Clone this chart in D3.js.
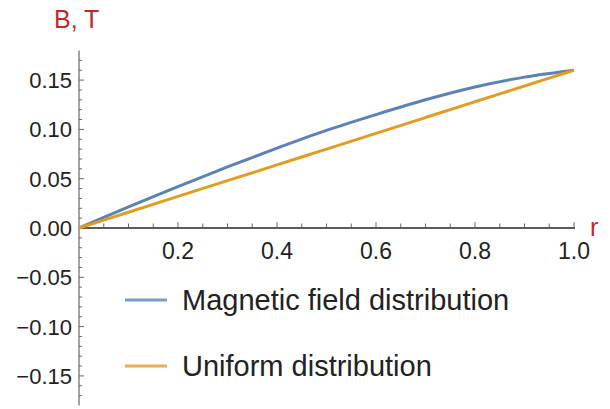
<!DOCTYPE html>
<html>
<head>
<meta charset="utf-8">
<script src="https://cdn.jsdelivr.net/npm/d3@7"></script>
<style>
  html, body { margin: 0; padding: 0; background: #fff; }
  svg { display: block; font-family: "Liberation Sans", Arial, sans-serif; }
</style>
</head>
<body>
<svg id="chart" width="610" height="409"></svg>
<script>
// ---- data ----
const rValues       = [0, 0.1, 0.2, 0.3, 0.4, 0.5, 0.6, 0.7, 0.8, 0.9, 1.0];
const magneticField = [0, 0.0215, 0.042, 0.062, 0.081, 0.099, 0.115, 0.130, 0.143, 0.153, 0.160];
const uniformField  = [0, 0.016, 0.032, 0.048, 0.064, 0.080, 0.096, 0.112, 0.128, 0.144, 0.160];
const xTickValues   = [0.2, 0.4, 0.6, 0.8, 1.0];
const xTickLabels   = ["0.2", "0.4", "0.6", "0.8", "1.0"];
const yTickValues   = [0.15, 0.10, 0.05, 0.00, -0.05, -0.10, -0.15];
const yTickLabels   = ["0.15", "0.10", "0.05", "0.00", "\u22120.05", "\u22120.10", "\u22120.15"];
const seriesNames   = ["Magnetic field distribution", "Uniform distribution"];
const seriesColors  = ["#5e81b5", "#e19c24"];

const svg = d3.select("#chart");
const x = d3.scaleLinear().domain([0, 1]).range([79, 574]);
const y = d3.scaleLinear().domain([-0.18, 0.18]).range([405.5, 50.5]);

const axisColor = "#666";

// y axis line
svg.append("line")
  .attr("x1", x(0)).attr("x2", x(0))
  .attr("y1", y(0.18)).attr("y2", y(-0.18))
  .attr("stroke", axisColor).attr("stroke-width", 1.2);

// y minor ticks (every 0.01)
const yMinor = d3.range(-17, 18).map(i => i / 100);
svg.append("g").selectAll("line").data(yMinor).join("line")
  .attr("x1", x(0)).attr("x2", d => x(0) + (Math.abs(Math.round(d * 100)) % 5 === 0 ? 5 : 3))
  .attr("y1", d => y(d)).attr("y2", d => y(d))
  .attr("stroke", axisColor).attr("stroke-width", 1);

// y labels
svg.append("g").selectAll("text").data(yTickValues).join("text")
  .attr("x", 72).attr("y", d => y(d))
  .attr("dy", "0.36em")
  .attr("text-anchor", "end")
  .attr("font-size", 22)
  .attr("fill", "#222")
  .text((d, i) => yTickLabels[i]);

// x minor ticks (every 0.05)
const xMinor = d3.range(1, 21).map(i => i / 20);
svg.append("g").selectAll("line").data(xMinor).join("line")
  .attr("x1", d => x(d)).attr("x2", d => x(d))
  .attr("y1", y(0)).attr("y2", d => y(0) - (Math.round(d * 20) % 4 === 0 ? 6 : 4.5))
  .attr("stroke", axisColor).attr("stroke-width", 1);

// x axis line
svg.append("line")
  .attr("x1", x(0)).attr("x2", x(1) + 1)
  .attr("y1", y(0)).attr("y2", y(0))
  .attr("stroke", "#5a5a5a").attr("stroke-width", 2.2);

// x labels
svg.append("g").selectAll("text").data(xTickValues).join("text")
  .attr("x", d => x(d)).attr("y", 259)
  .attr("text-anchor", "middle")
  .attr("font-size", 23)
  .attr("fill", "#222")
  .text((d, i) => xTickLabels[i]);

// axis titles
svg.append("text").attr("x", 54).attr("y", 28)
  .attr("font-size", 25).attr("fill", "#c0282e").text("B, T");
svg.append("text").attr("x", 590).attr("y", 236)
  .attr("font-size", 25).attr("fill", "#c0282e").text("r");

// curves
const line = d3.line().x(d => x(d[0])).y(d => y(d[1])).curve(d3.curveMonotoneX);
const series = [magneticField, uniformField];
series.forEach((vals, i) => {
  svg.append("path")
    .datum(rValues.map((r, j) => [r, vals[j]]))
    .attr("fill", "none")
    .attr("stroke", seriesColors[i])
    .attr("stroke-width", 3)
    .attr("stroke-linejoin", "round")
    .attr("d", line);
});

// legend
const legendY = [300, 366];
seriesNames.forEach((name, i) => {
  svg.append("line")
    .attr("x1", 125).attr("x2", 167)
    .attr("y1", legendY[i]).attr("y2", legendY[i])
    .attr("stroke", seriesColors[i]).attr("stroke-width", 3).attr("opacity", 0.8);
  svg.append("text")
    .attr("x", 182).attr("y", legendY[i])
    .attr("dy", "0.36em")
    .attr("font-size", 29)
    .attr("fill", "#222")
    .text(name);
});
</script>
</body>
</html>
